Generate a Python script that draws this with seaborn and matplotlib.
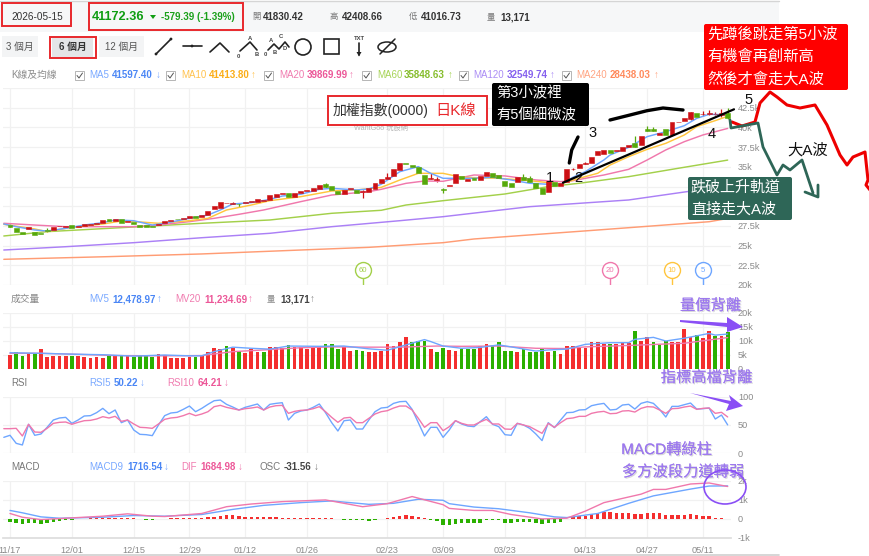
import numpy as np
import seaborn as sns
import matplotlib.pyplot as plt
import matplotlib.patheffects as pe
from matplotlib.patches import Rectangle, FancyBboxPatch, Ellipse, Circle, Polygon

# ---- values ----
days = list(range(117))
date_ticks = [0, 10, 20, 29, 38, 48, 61, 70, 80, 93, 103, 112]
date_labels = ['11/17', '12/01', '12/15', '12/29', '01/12', '01/26', '02/23', '03/09', '03/23', '04/13', '04/27', '05/11']

candle_open = [27.61, 27.28, 26.73, 27.11, 26.77, 26.64, 27.02, 26.98, 27.44, 27.40, 27.61, 27.40, 27.49, 27.57, 27.70, 27.91,
               28.33, 28.12, 28.33, 28.04, 28.00, 27.61, 27.57, 27.53, 27.57, 27.83, 28.16, 28.38, 28.38, 28.55, 28.71, 28.67,
               28.88, 29.69, 29.81, 30.36, 30.32, 30.32, 30.41, 30.53, 30.58, 30.62, 30.79, 31.21, 31.51, 31.72, 31.17, 31.72,
               31.89, 31.93, 32.23, 32.82, 32.52, 31.97, 31.59, 32.18, 32.06, 31.84, 31.80, 32.18, 32.99, 33.49, 33.87, 34.59,
               35.44, 35.23, 34.93, 33.96, 33.49, 33.32, 32.23, 32.53, 32.99, 33.84, 33.24, 33.62, 33.37, 33.84, 34.22, 33.92,
               33.24, 32.99, 33.08, 33.75, 33.54, 32.91, 32.36, 31.76, 33.12, 32.57, 33.07, 34.68, 34.81, 35.36, 35.53, 36.46,
               36.67, 37.09, 36.97, 36.97, 37.47, 37.98, 37.77, 39.76, 39.76, 39.08, 39.76, 39.04, 40.65, 40.86, 41.07, 41.87,
               41.66, 41.66, 41.66, 41.53, 41.83]
candle_close = [27.36, 26.73, 26.47, 27.40, 26.35, 26.47, 26.81, 27.36, 27.53, 27.53, 27.28, 27.53, 27.74, 27.74, 27.91, 28.25,
                28.08, 28.33, 27.91, 28.16, 27.78, 27.40, 27.40, 27.40, 27.70, 28.08, 28.25, 28.33, 28.50, 28.80, 28.55, 28.88,
                29.35, 30.03, 30.49, 30.41, 30.41, 30.24, 30.58, 30.70, 30.91, 30.74, 31.38, 31.55, 31.72, 31.17, 31.72, 31.93,
                32.06, 32.27, 32.69, 32.39, 32.01, 31.51, 32.06, 32.27, 31.63, 31.93, 32.35, 32.90, 33.49, 33.66, 34.68, 35.44,
                35.31, 34.97, 34.17, 32.78, 33.58, 33.49, 32.10, 32.65, 34.05, 33.50, 33.50, 33.29, 33.84, 34.39, 33.67, 33.54,
                32.61, 32.48, 33.71, 33.33, 33.12, 32.36, 31.59, 33.20, 32.57, 32.99, 34.68, 34.77, 35.36, 35.44, 36.25, 36.97,
                37.09, 36.71, 37.14, 37.56, 37.77, 37.56, 38.91, 39.59, 39.59, 39.34, 39.04, 40.65, 40.73, 41.15, 41.96, 41.37,
                41.70, 41.79, 41.70, 41.87, 41.17]
wick_days = [0, 6, 36, 37, 51, 57, 61, 68, 69, 70, 83, 84, 91, 93, 101, 103, 104, 110, 112, 113, 114, 115, 116]
wick_high = [27.70, 27.20, 30.55, 30.45, 33.00, 32.00, 34.20, 34.20, 33.70, 32.30, 34.10, 33.80, 34.85, 35.60, 38.90, 40.20, 40.10,
             42.00, 42.10, 42.20, 42.00, 42.30, 42.41]
wick_low = [27.30, 26.75, 30.30, 29.85, 32.35, 31.10, 33.45, 33.40, 33.10, 31.64, 33.30, 33.10, 34.60, 35.30, 37.50, 39.55, 39.55,
            41.00, 41.50, 41.60, 41.55, 41.30, 41.02]

ma5_days = [-1, 1, 4, 6, 9, 12, 15, 17, 20, 23, 25, 29, 32, 34, 36, 39, 42, 44, 47, 50, 52, 56, 58, 60, 63, 66, 68, 70, 72, 75, 78,
            81, 84, 87, 89, 91, 93, 96, 97, 100, 103, 106, 109, 111, 113, 116]
ma5 = [27.74, 27.40, 26.98, 26.85, 27.19, 27.61, 27.91, 28.25, 28.16, 27.61, 27.83, 28.46, 28.88, 29.52, 30.28, 30.45, 30.87, 31.29,
       31.51, 32.14, 32.27, 32.06, 32.18, 32.78, 34.38, 35.02, 34.17, 33.54, 33.54, 33.54, 33.67, 33.33, 32.91, 32.78, 32.78, 33.67,
       34.39, 35.87, 36.50, 37.47, 38.83, 39.46, 40.22, 41.15, 41.66, 41.60]
ma10_days = [-1, 4, 6, 10, 15, 18, 21, 24, 29, 32, 35, 39, 42, 47, 52, 56, 60, 63, 66, 70, 73, 79, 84, 89, 92, 95, 97, 100, 103, 106,
             109, 111, 114, 116]
ma10 = [27.70, 27.11, 26.77, 27.32, 27.74, 28.12, 28.00, 27.83, 28.16, 28.46, 29.52, 30.15, 30.70, 31.21, 31.93, 32.06, 32.39, 33.32,
        34.17, 34.17, 33.67, 33.54, 33.24, 32.82, 33.54, 34.18, 35.23, 36.29, 37.22, 37.98, 39.04, 40.10, 40.86, 41.41]
ma20_days = [-1, 4, 9, 15, 20, 24, 29, 33, 37, 41, 47, 52, 58, 60, 64, 67, 70, 75, 80, 85, 89, 91, 93, 96, 100, 103, 106, 109, 112, 116]
ma20 = [27.83, 27.61, 27.40, 27.40, 27.40, 27.61, 28.04, 28.46, 28.97, 29.52, 30.58, 31.42, 31.85, 32.14, 32.90, 33.20, 33.16, 33.96,
        33.84, 33.33, 33.12, 33.24, 33.54, 33.96, 34.68, 35.87, 37.14, 38.19, 39.04, 39.87]
ma60_days = [-1, 6, 15, 23, 31, 42, 52, 60, 64, 70, 80, 87, 92, 100, 108, 116]
ma60 = [26.22, 26.77, 27.15, 27.49, 27.83, 28.25, 29.10, 29.48, 30.15, 30.70, 31.55, 32.48, 32.91, 33.75, 34.81, 35.85]
ma120_days = [-1, 9, 20, 31, 42, 52, 63, 70, 84, 100, 109, 116]
ma120 = [24.44, 24.86, 25.37, 26.00, 26.56, 27.40, 28.16, 28.67, 29.94, 30.79, 31.80, 32.55]
ma240_days = [-1, 16, 31, 47, 58, 70, 75, 95, 113, 116]
ma240 = [23.26, 23.60, 23.94, 24.44, 24.78, 25.37, 25.84, 26.98, 28.03, 28.44]

volume = [5.0, 6.2, 4.8, 5.6, 5.2, 7.0, 4.4, 4.8, 4.8, 4.5, 4.5, 4.5, 4.3, 3.8, 4.4, 4.0, 4.5, 4.5, 5.0, 4.5, 4.3, 4.8, 4.8, 4.3, 5.2,
          5.0, 4.0, 4.0, 4.0, 4.4, 4.3, 4.6, 6.2, 7.5, 7.0, 8.2, 7.4, 6.5, 5.7, 7.0, 6.2, 6.1, 8.0, 7.9, 7.4, 8.5, 7.9, 7.7, 7.0, 7.7,
          7.9, 8.9, 8.8, 7.3, 7.7, 6.5, 6.7, 6.5, 6.0, 6.2, 6.5, 8.8, 8.2, 9.5, 11.3, 9.5, 10.0, 10.0, 7.1, 6.0, 7.6, 6.7, 6.4, 7.1,
          7.1, 7.1, 8.1, 8.8, 8.2, 9.5, 6.4, 6.4, 6.0, 7.1, 6.0, 6.2, 7.6, 6.0, 6.5, 5.5, 8.2, 8.2, 8.0, 7.6, 9.5, 9.5, 8.8, 9.0, 8.9,
          9.4, 9.4, 13.7, 10.0, 11.4, 9.8, 8.6, 10.0, 9.8, 9.8, 14.3, 11.5, 12.1, 11.0, 13.5, 11.7, 11.9, 13.17]
volume_green_days = [1, 2, 4, 10, 16, 18, 20, 21, 22, 23, 30, 35, 37, 41, 45, 51, 52, 53, 56, 57, 65, 66, 67, 69, 70, 73, 74, 75, 78,
                     79, 80, 81, 83, 84, 85, 86, 88, 97, 101, 104, 105, 106, 111, 114, 116]
mv5_days = [0, 5, 10, 15, 20, 25, 29, 31, 33, 36, 39, 42, 45, 50, 54, 58, 61, 64, 67, 68, 70, 73, 76, 79, 81, 85, 87, 90, 93, 97, 100,
            101, 104, 106, 109, 113, 114, 116]
mv5 = [5.8, 5.6, 5.3, 5.1, 4.6, 5.0, 4.7, 4.7, 6.2, 7.8, 7.4, 7.1, 8.2, 8.1, 8.2, 7.2, 6.7, 8.6, 10.5, 9.8, 8.2, 7.4, 7.7, 8.6, 7.9,
       6.4, 6.8, 7.1, 8.8, 9.4, 9.4, 10.6, 11.3, 10.0, 11.0, 12.7, 12.1, 12.48]
mv20_days = [0, 5, 10, 17, 25, 31, 36, 41, 47, 52, 58, 63, 69, 73, 79, 85, 90, 93, 100, 109, 116]
mv20 = [5.6, 5.6, 5.3, 4.8, 4.7, 4.8, 6.2, 6.8, 7.6, 7.9, 7.8, 7.8, 8.2, 8.1, 8.2, 7.4, 7.3, 7.9, 8.4, 9.2, 11.23]

rsi_days = list(range(-1, 117))
rsi5 = [28.2, 31.8, 17.6, 14.7, 51.2, 31.8, 34.1, 45.9, 58.8, 62.4, 63.5, 52.9, 58.8, 65.9, 66.5, 71.8, 79.4, 70.0, 76.5, 54.1, 58.8,
        41.2, 33.5, 32.9, 31.2, 50.0, 66.5, 71.2, 72.4, 77.6, 83.5, 73.5, 79.4, 86.5, 92.9, 94.1, 86.5, 81.8, 76.5, 81.2, 84.1, 87.1,
        76.5, 86.5, 88.2, 89.4, 58.8, 70.6, 74.7, 76.5, 81.2, 87.1, 71.8, 54.1, 39.4, 57.6, 58.8, 42.9, 42.9, 58.8, 73.5, 80.0, 81.2,
        88.2, 91.2, 91.8, 77.6, 54.1, 30.6, 45.9, 45.9, 28.2, 41.2, 57.6, 51.8, 48.2, 47.1, 55.9, 64.7, 51.2, 47.1, 32.9, 31.8, 52.9,
        50.0, 44.1, 34.1, 22.4, 54.1, 45.3, 58.8, 71.8, 72.4, 76.5, 77.1, 84.1, 86.5, 88.2, 76.5, 77.6, 85.3, 86.5, 78.2, 88.2, 91.2,
        88.2, 77.6, 64.1, 82.9, 82.9, 85.9, 88.8, 78.2, 78.8, 80.0, 60.6, 67.6, 50.22]
rsi10 = [43.5, 43.5, 44.1, 30.6, 51.2, 37.6, 37.1, 44.1, 52.9, 54.7, 55.3, 51.2, 54.7, 57.6, 58.2, 60.6, 64.7, 62.4, 65.3, 56.5, 58.8,
         51.8, 45.9, 45.3, 44.1, 51.8, 60.0, 62.4, 63.5, 66.5, 70.6, 66.5, 69.4, 73.5, 82.4, 84.7, 81.2, 78.8, 76.5, 78.8, 80.0, 81.8,
         76.5, 81.8, 84.1, 84.7, 70.6, 74.1, 75.9, 76.5, 78.8, 82.4, 73.5, 63.5, 54.7, 62.4, 63.5, 54.1, 54.1, 61.8, 69.4, 73.5, 75.3,
         80.0, 83.5, 83.5, 76.5, 61.8, 45.9, 54.1, 54.1, 40.0, 47.0, 57.6, 52.9, 50.0, 50.0, 55.3, 60.0, 51.8, 51.8, 42.9, 42.4, 52.9,
         50.0, 47.1, 41.2, 35.3, 52.9, 45.9, 54.1, 61.2, 62.4, 65.3, 65.3, 70.6, 72.9, 74.1, 70.0, 70.6, 74.7, 75.3, 72.9, 79.4, 82.4,
         81.8, 76.5, 70.6, 78.8, 79.4, 81.8, 83.5, 77.6, 79.4, 80.0, 70.6, 72.4, 64.21]

macd9_days = [0, 2, 5, 8, 15, 20, 25, 31, 36, 41, 47, 52, 58, 62, 66, 70, 71, 75, 79, 84, 88, 90, 95, 100, 104, 110, 113, 116]
macd9 = [427, 303, 89, 18, 71, 160, 125, 214, 481, 694, 837, 926, 748, 801, 1015, 961, 783, 605, 516, 303, 89, 53, 267, 801, 1193,
         1549, 1709, 1716.54]
dif_days = [0, 2, 5, 9, 15, 19, 23, 25, 31, 35, 39, 44, 51, 57, 61, 65, 70, 71, 75, 78, 81, 86, 90, 93, 96, 102, 104, 106, 110, 113, 116]
dif = [267, 71, -53, 18, 125, 249, 125, 107, 267, 623, 765, 890, 979, 623, 783, 1157, 730, 534, 427, 427, 214, -18, 18, 392, 837, 1282,
       1531, 1531, 1816, 1870, 1684.98]
osc = [-178, -231, -267, -249, -249, -267, -249, -196, -142, -89, -53, -36, -20, 30, 40, 40, 35, 35, 30, 30, 20, -40, -50, -50, -40,
       -20, 8, 20, 25, 30, 45, 50, 70, 90, 125, 170, 175, 125, 90, 80, 75, 70, 70, 60, 55, 50, 50, 50, 50, 40, 40, 40, 8, -40, -50, -60,
       -70, -90, -130, -90, -40, 30, 90, 160, 195, 140, 100, 8, -70, -130, -320, -356, -285, -249, -249, -231, -231, -71, -71, -71, -231,
       -231, -196, -178, -178, -214, -285, -231, -231, -196, -20, 71, 125, 142, 214, 267, 320, 338, 303, 285, 267, 231, 231, 285, 303,
       267, 196, 178, 196, 196, 231, 196, 160, 125, 53, 18, -31.56]

pin_periods = [60, 20, 10, 5]
# 45k, 32.5k and 30k sit under the pasted boxes in the screenshot
price_ticks = [20, 22.5, 25, 27.5, 30, 32.5, 35, 37.5, 40, 42.5, 45]
price_labels = ['20k', '22.5k', '25k', '27.5k', '', '', '35k', '37.5k', '40k', '42.5k', '']

# ---- colours ----
C_UP, C_DOWN = '#cc1014', '#56a80a'
V_UP, V_DOWN = '#f42e2e', '#2bb000'
BLUE, YELLOW, PINK, LIME, PURPLE, ORANGE = '#6ea6ff', '#ffc53d', '#f078ac', '#a3d04a', '#ab80f6', '#ff9c74'
GRID, TICK = '#f1f1f1', '#8a8a8a'
VIOLET, TEAL = '#9c78ee', '#2e6657'

W, H = 870, 556
sns.set_theme(style='white')
plt.rcParams['font.family'] = ['Liberation Sans', 'Noto Sans CJK TC', 'DejaVu Sans']
plt.rcParams['axes.unicode_minus'] = False
fig = plt.figure(figsize=(W / 100, H / 100), dpi=100, facecolor='white')


def panel(top, bottom, ylim, ticks, labels):
    ax = fig.add_axes([3 / W, 1 - bottom / H, 728 / W, (bottom - top) / H])
    ax.set_xlim(-1.131, 116.54)
    ax.set_ylim(*ylim)
    ax.yaxis.tick_right()
    ax.set_yticks(ticks, labels)
    ax.set_xticks(date_ticks, [])
    ax.tick_params(length=0, labelsize=6.6, labelcolor=TICK, pad=5)
    ax.grid(True, color=GRID, lw=0.9)
    ax.set_axisbelow(True)
    sns.despine(ax=ax, left=True, right=True, top=True, bottom=True)
    for lab in ax.get_yticklabels():
        lab.set_ha('left')
    return ax


def line(ax, xs, ys, color, lw=1.05):
    sns.lineplot(x=xs, y=ys, ax=ax, color=color, linewidth=lw, estimator=None, errorbar=None, legend=False)


def side_bars(ax, values, sides, width):
    sns.barplot(x=days, y=values, hue=sides, hue_order=['up', 'down'], palette={'up': V_UP, 'down': V_DOWN},
                native_scale=True, dodge=False, legend=False, saturation=1, width=width, linewidth=0, ax=ax)
    ax.set_xlim(-1.131, 116.54)
    ax.set_xticks(date_ticks, [])
    ax.set_xlabel('')
    ax.set_ylabel('')


# ---- K line panel ----
ax_k = panel(88, 285, (20, 45), price_ticks, price_labels)
opens, closes = np.array(candle_open), np.array(candle_close)
cols = [C_UP if c >= o else C_DOWN for o, c in zip(opens, closes)]
wick_cols = [cols[d] for d in wick_days]
ax_k.vlines(wick_days, wick_low, wick_high, colors=wick_cols, lw=0.9, zorder=2)
ax_k.bar(days, closes - opens, bottom=opens, width=0.8, color=cols, edgecolor=cols, linewidth=0.4, zorder=3)
line(ax_k, ma240_days, ma240, ORANGE)
line(ax_k, ma120_days, ma120, PURPLE)
line(ax_k, ma60_days, ma60, LIME)
line(ax_k, ma20_days, ma20, PINK)
line(ax_k, ma10_days, ma10, YELLOW)
line(ax_k, ma5_days, ma5, BLUE)
pin_cols = [LIME, PINK, YELLOW, BLUE]
for n, c in zip(pin_periods, pin_cols):
    d = days[-1] + 1 - n
    ax_k.vlines(d, 20, 21.0, colors=c, lw=1.0, zorder=4)
    ax_k.plot([d], [21.85], 'o', ms=11.5, mfc='white', mec=c, mew=1.0, zorder=4)
    ax_k.text(d, 21.82, str(n), color=c, fontsize=5.6, ha='center', va='center', zorder=5)

# ---- volume panel ----
ax_v = panel(313, 369, (0, 20), [0, 5, 10, 15, 20], ['0', '5k', '10k', '15k', '20k'])
side_bars(ax_v, volume, ['down' if d in volume_green_days else 'up' for d in days], 0.6)
line(ax_v, mv20_days, mv20, PINK, 1.0)
line(ax_v, mv5_days, mv5, BLUE, 1.0)

# ---- RSI panel ----
ax_r = panel(396.7, 453.3, (0, 100), [0, 50, 100], ['0', '50', '100'])
line(ax_r, rsi_days, rsi5, BLUE, 1.0)
line(ax_r, rsi_days, rsi10, PINK, 1.0)

# ---- MACD panel ----
ax_m = panel(480.5, 537.6, (-1000, 2000), [-1000, 0, 1000, 2000], ['-1k', '0', '1k', '2k'])
side_bars(ax_m, osc, ['up' if v >= 0 else 'down' for v in osc], 0.55)
line(ax_m, macd9_days, macd9, BLUE, 1.0)
line(ax_m, dif_days, dif, PINK, 1.0)
ax_m.set_xticks(date_ticks, date_labels)
ax_m.tick_params(axis='x', labelsize=6.6, labelcolor=TICK, pad=6)
ax_m.spines['bottom'].set_visible(True)
ax_m.spines['bottom'].set_color('#dddddd')

# ---- page chrome and hand annotations, in pixel coordinates ----
ui = fig.add_axes([0, 0, 1, 1], zorder=10)
ui.set_xlim(0, W)
ui.set_ylim(H, 0)
ui.axis('off')
ui.patch.set_alpha(0)


def txt(x, y, s, color='#333333', size=7, weight='normal', ha='left', **kw):
    return ui.text(x, y, s, color=color, fontsize=size, fontweight=weight, ha=ha, va='center', **kw)


def box(x0, y0, x1, y1, fc='none', ec='none', lw=1.4, rounded=False, z=3):
    if rounded:
        p = FancyBboxPatch((x0 + 1, y0 + 1), x1 - x0 - 2, y1 - y0 - 2, boxstyle='round,pad=1,rounding_size=2', fc=fc, ec=ec, lw=lw, zorder=z)
    else:
        p = Rectangle((x0, y0), x1 - x0, y1 - y0, fc=fc, ec=ec, lw=lw, zorder=z)
    ui.add_patch(p)


def stroke(pts, color='#222222', lw=1.2, z=4):
    a = np.array(pts)
    ui.plot(a[:, 0], a[:, 1], color=color, lw=lw, zorder=z, solid_capstyle='round', solid_joinstyle='round')


box(0, 1, 779, 32, fc='#f6f7f8', lw=0, z=1)
ui.plot([0, 779], [0.6, 0.6], color='#d5d5d5', lw=1)
ui.plot([0, 779], [555, 555], color='#cfcfcf', lw=1.2)

txt(11, 17, '2026-05-15', size=7.2)
txt(92, 16.5, '41172.36', color='#0f9d12', size=9.2, weight='bold')
ui.add_patch(Polygon([(150, 15), (156, 15), (153, 19)], fc='#0f9d12', ec='none'))
txt(161, 17, '-579.39 (-1.39%)', color='#1aa01a', size=7, weight='bold')
for x, lab, xv, val in [(252, '開', 263, '41830.42'), (330, '高', 342, '42408.66'), (409, '低', 421, '41016.73'), (487, '量', 500, '13,171')]:
    txt(x, 17, lab, color='#777777', size=6)
    txt(xv, 17, val, color='#333333', size=7, weight='bold')
box(2, 3, 71, 26, ec='#e8282c')
box(89, 3, 243, 30, ec='#e8282c')

box(2, 36, 38, 57, fc='#f3f4f5')
box(52, 37, 93, 57, fc='#e4e5e7')
box(99, 36, 144, 57, fc='#f3f4f5')
txt(20, 46.5, '3 個月', color='#555555', size=7, ha='center')
txt(72.5, 46.5, '6 個月', color='#333333', size=7, ha='center', weight='bold')
txt(121.5, 46.5, '12 個月', color='#555555', size=7, ha='center')
box(50, 37, 96, 58, ec='#e8282c')

# tool icons
stroke([(156, 54), (171, 39)])
stroke([(183, 46), (202, 46)])
stroke([(210, 52), (220, 43), (229, 52)])
stroke([(240, 51), (250, 42), (257, 50)])
stroke([(268, 50), (274, 44), (279, 49), (285, 42), (289, 47)])
for xy in [(156, 54), (171, 39), (192, 46)]:
    ui.add_patch(Circle(xy, 1.4, fc='#222222', ec='none', zorder=4))
for x, y, s in [(238, 56, '0'), (250, 38, 'A'), (257, 54, 'B'), (265, 55, '0'), (271, 40, 'A'), (275, 52, 'B'), (281, 36, 'C'), (285, 49, 'D')]:
    txt(x, y, s, size=4.2, ha='center', color='#444444', weight='bold')
ui.add_patch(Circle((303, 47), 8, fc='none', ec='#222222', lw=1.2))
box(324, 39, 339, 54, ec='#222222', lw=1.2)
txt(359, 38.5, 'TXT', size=4.2, ha='center', color='#444444', weight='bold')
stroke([(359, 43), (359, 55)])
ui.add_patch(Polygon([(356.5, 52), (361.5, 52), (359, 56.5)], fc='#222222', ec='none'))
ui.add_patch(Ellipse((387, 47), 18, 10, fc='none', ec='#222222', lw=1.1))
stroke([(380, 54), (395, 39)], lw=1.1)

# MA legend row
txt(11, 75, 'K線及均線', color='#8a8a8a', size=7)
ma_legend = [(75, 89, 112, 156, 'MA5', '41597.40', '↓', '#7aa9ff', '#4a86f5'),
             (166, 181, 209, 251, 'MA10', '41413.80', '↑', '#ffc24d', '#fbad17'),
             (264, 279, 307, 349, 'MA20', '39869.99', '↑', '#f07cb0', '#ec5798'),
             (362, 377, 404, 448, 'MA60', '35848.63', '↑', '#a6d356', '#86bd2c'),
             (459, 473, 507, 550, 'MA120', '32549.74', '↑', '#ab8df5', '#8560ee'),
             (562, 576, 610, 654, 'MA240', '28438.03', '↑', '#ffa583', '#ff8a5c')]
for xb, xl, xv, xa, lab, val, arr, c1, c2 in ma_legend:
    box(xb, 71, xb + 9, 80, fc='white', ec='#b5b5b5', lw=0.7)
    stroke([(xb + 2, 75.5), (xb + 4, 78), (xb + 7.5, 73)], color='#555555', lw=0.7)
    txt(xl, 75, lab, color=c1, size=7)
    txt(xv, 75, val, color=c2, size=7, weight='bold')
    txt(xa, 75, arr, color=c1, size=7)

# panel legends
txt(11, 299, '成交量', color='#8a8a8a', size=7)
for xl, xv, xa, lab, val, arr, c1, c2 in [(89, 112, 157, 'MV5', '12,478.97', '↑', '#7aa9ff', '#4a86f5'),
                                          (175.5, 204, 248, 'MV20', '11,234.69', '↑', '#f07cb0', '#ec5798'),
                                          (267, 280, 310, '量', '13,171', '↑', '#888888', '#444444')]:
    txt(xl, 299, lab, color=c1, size=6 if lab == '量' else 7)
    txt(xv, 299, val, color=c2, size=7, weight='bold')
    txt(xa, 299, arr, color=c1, size=7)
txt(11, 383, 'RSI', color='#777777', size=7)
for xl, xv, xa, lab, val, arr, c1, c2 in [(89, 114, 140, 'RSI5', '50.22', '↓', '#7aa9ff', '#4a86f5'),
                                          (167, 198, 224, 'RSI10', '64.21', '↓', '#f07cb0', '#ec5798')]:
    txt(xl, 383, lab, color=c1, size=7)
    txt(xv, 383, val, color=c2, size=7, weight='bold')
    txt(xa, 383, arr, color=c1, size=7)
txt(11, 467, 'MACD', color='#777777', size=7)
for xl, xv, xa, lab, val, arr, c1, c2 in [(89, 127, 164, 'MACD9', '1716.54', '↓', '#7aa9ff', '#4a86f5'),
                                          (181, 200, 238, 'DIF', '1684.98', '↓', '#f07cb0', '#ec5798'),
                                          (260, 284, 314, 'OSC', '-31.56', '↓', '#777777', '#444444')]:
    txt(xl, 467, lab, color=c1, size=7)
    txt(xv, 467, val, color=c2, size=7, weight='bold')
    txt(xa, 467, arr, color=c1, size=7)

txt(381, 128.5, 'WantGoo 玩股網', color='#b5b5b5', size=5.2, ha='center')

# annotation boxes
box(328, 96, 487, 125, fc='white', ec='#e8282c')
txt(333, 111, '加權指數(0000)', color='#333333', size=10)
txt(435, 111, '日K線', color='#e8282c', size=11)

box(492, 83, 589, 126, fc='black', rounded=True)
txt(496, 93, '第3小波裡', color='white', size=10.4)
txt(496, 115, '有5個細微波', color='white', size=10.4)

box(704, 24, 848, 90, fc='#ff0000', rounded=True)
for y, s in [(34, '先蹲後跳走第5小波'), (57, '有機會再創新高'), (79, '然後才會走大A波')]:
    txt(707, y, s, color='white', size=11)

box(688, 177, 792, 220, fc=TEAL, rounded=True)
txt(691, 187, '跌破上升軌道', color='white', size=10.8)
txt(691, 209, '直接走大A波', color='white', size=10.8)

# hand drawn strokes
stroke([(563, 182.7), (734, 109.3)], color='black', lw=1.6)
stroke([(569.3, 163), (571.7, 150), (578, 137)], color='black', lw=2.4)
stroke([(610, 120), (630, 115), (647, 110.7), (663, 108), (683, 110)], color='black', lw=2.4)
stroke([(730, 120), (731, 128), (758, 123), (763, 147), (777, 175), (783, 165), (790, 170), (802, 160), (813, 193)], color=TEAL, lw=2)
stroke([(805, 192), (818, 197), (818, 185)], color=TEAL, lw=2)
stroke([(732, 122), (742, 126), (755, 122), (760, 103), (770, 92), (777, 97), (787, 105), (800, 108), (815, 105), (827, 125),
        (840, 155), (847, 165), (853, 157), (865, 152), (868, 180), (866, 185), (870, 190)], color='#ee0000', lw=2.2, z=2)
for x, y, s in [(550, 178, '1'), (578, 178, '2'), (593, 133, '3'), (712, 134, '4'), (749, 100, '5')]:
    txt(x, y, s, color='#111111', size=10.5, ha='center')
txt(808, 150, '大A波', color='#111111', size=11, ha='center')

# violet callouts
shadow = [pe.withSimplePatchShadow(offset=(0.8, -0.8), shadow_rgbFace='#999999', alpha=0.4), pe.Normal()]
for x, y, s in [(710.5, 306, '量價背離'), (706.5, 378, '指標高檔背離'), (666.5, 450, 'MACD轉綠柱'), (683, 472, '多方波段力道轉弱')]:
    txt(x, y, s, color=VIOLET, size=11, ha='center', path_effects=shadow)
ui.add_patch(Polygon([(680, 320), (727, 323), (727, 317), (743, 327), (727, 332), (727, 327), (680, 322)], fc='#8a4ff5', ec='none', zorder=5))
ui.add_patch(Polygon([(690, 393), (731, 401), (729, 395), (743, 406), (726, 411), (729, 404)], fc='#8a4ff5', ec='none', zorder=5))
ui.add_patch(Ellipse((725, 487), 42, 34, fc='none', ec='#8a4ff5', lw=1.2, zorder=5))

fig.savefig('out.png', dpi=100)
